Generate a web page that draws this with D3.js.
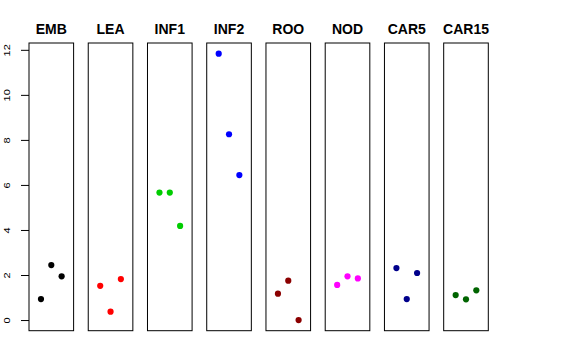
<!DOCTYPE html>
<html>
<head>
<meta charset="utf-8">
<script src="https://cdn.jsdelivr.net/npm/d3@7"></script>
<style>
  html, body { margin: 0; padding: 0; background: #fff; }
  svg { display: block; font-family: "Liberation Sans", Arial, Helvetica, sans-serif; }
</style>
</head>
<body>
<svg id="chart" width="576" height="360"></svg>
<script>
// ---- data ----
const categories = ["EMB", "LEA", "INF1", "INF2", "ROO", "NOD", "CAR5", "CAR15"];
const colors = ["#000000", "#FF0000", "#00CD00", "#0000FF", "#8B0000", "#FF00FF", "#00008B", "#006400"];
const rep1 = [0.93, 1.52, 5.66, 11.83, 1.17, 1.56, 2.31, 1.11];
const rep2 = [2.44, 0.37, 5.66, 8.25, 1.75, 1.94, 0.93, 0.92];
const rep3 = [1.94, 1.82, 4.18, 6.44, 0.00, 1.85, 2.09, 1.32];
const yTicks = [0, 2, 4, 6, 8, 10, 12];

const svg = d3.select("#chart");

// panel placement
const band = d3.scaleBand()
  .domain(categories)
  .range([29, 488.3])
  .paddingInner(0.247)
  .paddingOuter(0);

// y scale: data range 0..max expanded by 4% (R style)
const allVals = rep1.concat(rep2, rep3);
const yMin = d3.min(allVals), yMax = d3.max(allVals);
const yPad = (yMax - yMin) * 0.04;
const y = d3.scaleLinear().domain([yMin - yPad, yMax + yPad]).range([330.7, 43]);

// x scale within a panel: xlim 0..4 expanded by 4%
const x = d3.scaleLinear().domain([-0.16, 4.16]).range([0, band.bandwidth()]);

categories.forEach((cat, i) => {
  const g = svg.append("g").attr("transform", `translate(${band(cat)},0)`);
  g.append("rect")
    .attr("x", 0).attr("y", y.range()[1])
    .attr("width", band.bandwidth())
    .attr("height", y.range()[0] - y.range()[1])
    .attr("fill", "none").attr("stroke", "#000").attr("stroke-width", 1);
  const pts = [rep1[i], rep2[i], rep3[i]];
  g.selectAll("circle").data(pts).join("circle")
    .attr("cx", (d, j) => x(j + 1))
    .attr("cy", d => y(d))
    .attr("r", 3.1)
    .attr("fill", colors[i]);
  g.append("text")
    .attr("x", band.bandwidth() / 2)
    .attr("y", 33.5)
    .attr("text-anchor", "middle")
    .attr("font-weight", "bold")
    .attr("font-size", "14px")
    .text(cat);
});

// y axis on the first panel
const axis = d3.axisLeft(y).tickValues(yTicks).tickSize(8).tickPadding(0).tickFormat(d3.format("d"));
const ax = svg.append("g").attr("transform", `translate(${band(categories[0])},0)`).call(axis);
ax.select(".domain").remove();
ax.selectAll(".tick line").attr("stroke", "#000");
ax.selectAll(".tick text")
  .attr("x", null).attr("dy", null)
  .attr("text-anchor", "middle")
  .attr("transform", "translate(-19.5,0) rotate(-90) scale(1,0.8)")
  .attr("font-size", "11px")
  .attr("fill", "#000")
  .style("font-family", "'Liberation Sans', Arial, sans-serif");
</script>
</body>
</html>
